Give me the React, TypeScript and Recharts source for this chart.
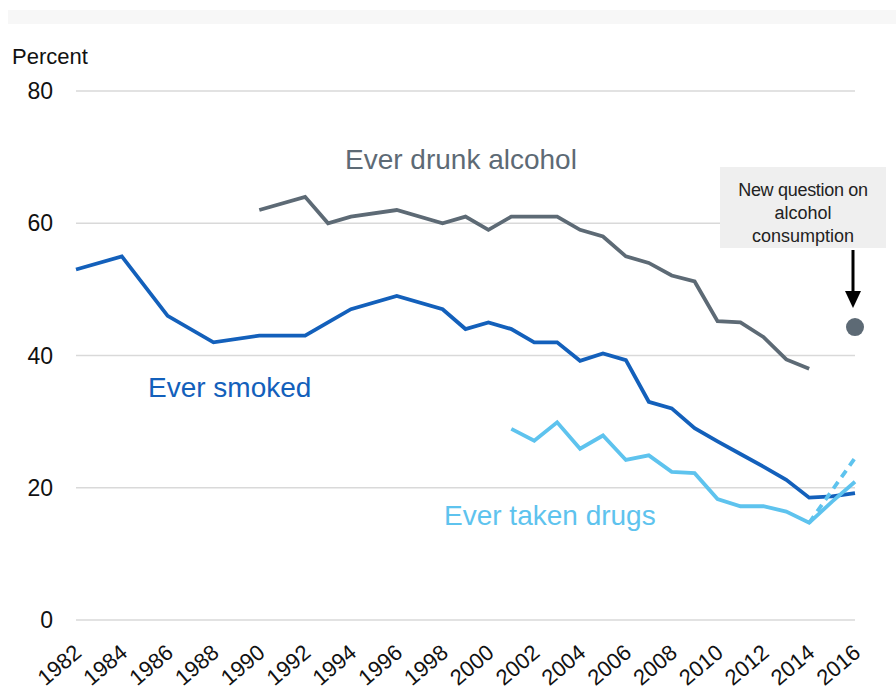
import { LineChart, Line, XAxis, YAxis, CartesianGrid, Customized } from "recharts"

const years = [
  1982, 1983, 1984, 1985, 1986, 1987, 1988, 1989, 1990, 1991, 1992, 1993,
  1994, 1995, 1996, 1997, 1998, 1999, 2000, 2001, 2002, 2003, 2004, 2005,
  2006, 2007, 2008, 2009, 2010, 2011, 2012, 2013, 2014, 2015, 2016,
]

const smoked = [
  53, null, 55, null, 46, null, 42, null, 43, null, 43, 45,
  47, null, 49, null, 47, 44, 45, 44, 42, 42, 39.2, 40.3,
  39.3, 33, 32, 29, 27, 25.1, 23.2, 21.2, 18.5, 18.7, 19.2,
]

const alcohol = [
  null, null, null, null, null, null, null, null, 62, null, 64, 60,
  61, null, 62, null, 60, 61, 59, 61, 61, 61, 59, 58,
  55, 54, 52.1, 51.2, 45.2, 45, 42.8, 39.4, 38, null, null,
]

const alcoholNew = [
  null, null, null, null, null, null, null, null, null, null, null, null,
  null, null, null, null, null, null, null, null, null, null, null, null,
  null, null, null, null, null, null, null, null, null, null, 44.3,
]

const drugs = [
  null, null, null, null, null, null, null, null, null, null, null, null,
  null, null, null, null, null, null, null, 28.9, 27.1, 29.9, 25.9, 27.9,
  24.2, 24.9, 22.4, 22.2, 18.3, 17.2, 17.2, 16.4, 14.7, 17.9, 20.9,
]

const drugsNew = [
  null, null, null, null, null, null, null, null, null, null, null, null,
  null, null, null, null, null, null, null, null, null, null, null, null,
  null, null, null, null, null, null, null, null, 14.7, 19.6, 24.5,
]

const xTicks = [
  1982, 1984, 1986, 1988, 1990, 1992, 1994, 1996, 1998, 2000, 2002, 2004,
  2006, 2008, 2010, 2012, 2014, 2016,
]
const yTicks = [0, 20, 40, 60, 80]

const data = years.map((year, i) => ({
  year,
  smoked: smoked[i],
  alcohol: alcohol[i],
  alcoholNew: alcoholNew[i],
  drugs: drugs[i],
  drugsNew: drugsNew[i],
}))

const FONT = "'Liberation Sans', Arial, sans-serif"
const GREY = "#5d6a75"
const BLUE = "#1360bb"
const LIGHT = "#5ec3ee"

const XTick = ({ x, y, payload }) => (
  <text
    transform={`translate(${x + 7},${y + 35}) rotate(-40)`}
    textAnchor="end"
    fontSize={22}
    fontFamily={FONT}
    fill="#111"
  >
    {payload.value}
  </text>
)

const YTick = ({ y, payload }) => (
  <text x={53} y={y} dy={8} textAnchor="end" fontSize={23} fontFamily={FONT} fill="#111">
    {payload.value}
  </text>
)

const Extras = () => (
  <g fontFamily={FONT}>
    <text x={12} y={64} fontSize={22} fill="#111">Percent</text>
    <text x={345} y={169} fontSize={28} fill={GREY}>Ever drunk alcohol</text>
    <text x={148} y={397} fontSize={28} fill={BLUE}>Ever smoked</text>
    <text x={444} y={525} fontSize={28} fill={LIGHT}>Ever taken drugs</text>
    <rect x={720} y={167} width={166} height={81} fill="#efefef" />
    <text x={803} y={196} fontSize={18} textAnchor="middle" fill="#222" letterSpacing={-0.3}>New question on</text>
    <text x={803} y={219} fontSize={18} textAnchor="middle" fill="#222">alcohol</text>
    <text x={803} y={242} fontSize={18} textAnchor="middle" fill="#222">consumption</text>
    <line x1={853} y1={250} x2={853} y2={294} stroke="#000" strokeWidth={3} />
    <polygon points="845,291 861,291 853,308" fill="#000" />
  </g>
)

const App = () => {

  return (

    <div style={{ position: "absolute", left: 0, top: 0, width: 896, height: 697, background: "#fff" }}>

      <div style={{ position: "absolute", left: 8, top: 10, width: 888, height: 14, background: "#f7f7f7" }} />

      <LineChart width={896} height={697} data={data} margin={{ top: 91, right: 41, bottom: 0, left: 0 }}>

        <CartesianGrid vertical={false} stroke="#d9d9d9" strokeWidth={1.5} />

        <XAxis
          dataKey="year"
          type="number"
          domain={[1982, 2016]}
          ticks={xTicks}
          interval={0}
          axisLine={false}
          tickLine={false}
          tickSize={0}
          tickMargin={0}
          height={77}
          tick={XTick}
        />

        <YAxis
          domain={[0, 80]}
          ticks={yTicks}
          axisLine={false}
          tickLine={false}
          width={76}
          tick={YTick}
        />

        <Line dataKey="alcohol" stroke={GREY} strokeWidth={3.8} dot={false} connectNulls isAnimationActive={false} />
        <Line dataKey="smoked" stroke={BLUE} strokeWidth={3.8} dot={false} connectNulls isAnimationActive={false} />
        <Line dataKey="drugsNew" stroke={LIGHT} strokeWidth={3.8} strokeDasharray="8 6" dot={false} isAnimationActive={false} />
        <Line dataKey="drugs" stroke={LIGHT} strokeWidth={3.8} dot={false} connectNulls isAnimationActive={false} />
        <Line dataKey="alcoholNew" stroke={GREY} dot={{ r: 9, fill: GREY, stroke: "none" }} isAnimationActive={false} />

        <Customized component={Extras} />

      </LineChart>

    </div>

  )

}

export default App
